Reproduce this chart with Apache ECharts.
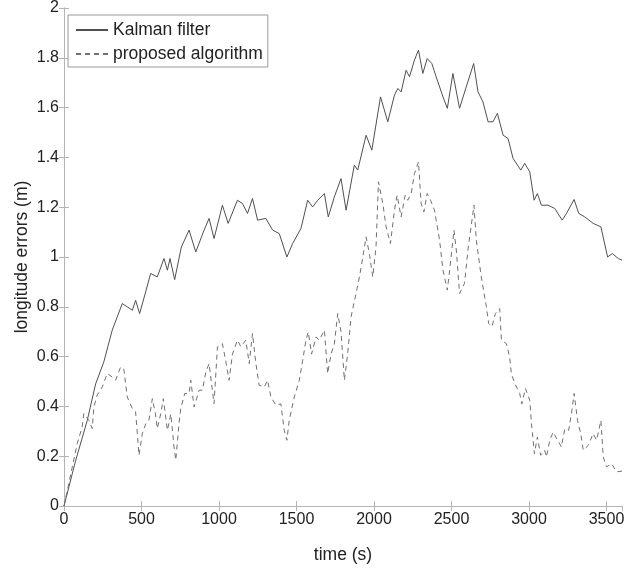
<!DOCTYPE html>
<html>
<head>
<meta charset="utf-8">
<title>longitude errors</title>
<script src="https://cdn.jsdelivr.net/npm/echarts@6/dist/echarts.min.js"></script>
<style>
    html, body { margin: 0; padding: 0; background: #fff; }
    #graph_container { width: 639px; height: 570px; }
</style>
</head>
<body>
<div id="graph_container"></div>
<script>
;
(function(window, echarts) {

    // Kalman filter (solid line)
    var kalmanTime = [0, 74, 150, 204, 257, 311, 376, 408, 441, 462, 488, 527, 559, 602, 645, 667, 684, 714, 757, 807,
        850, 904, 936, 968, 1022, 1059, 1119, 1151, 1184, 1216, 1249, 1302, 1346, 1389, 1438, 1475, 1529, 1572, 1604, 1637,
        1680, 1705, 1744, 1787, 1820, 1873, 1895, 1949, 1986, 2042, 2089, 2132, 2154, 2175, 2207, 2229, 2261, 2287, 2315, 2343,
        2373, 2401, 2445, 2473, 2509, 2552, 2595, 2643, 2671, 2703, 2736, 2768, 2796, 2833, 2865, 2897, 2947, 2972, 3005, 3033,
        3054, 3080, 3123, 3166, 3214, 3242, 3291, 3321, 3360, 3414, 3464, 3507, 3537, 3576, 3600
    ];
    var kalmanError = [0, 0.18, 0.344, 0.49, 0.579, 0.706, 0.813, 0.80, 0.786, 0.826, 0.773, 0.86, 0.934, 0.92, 0.994, 0.947, 0.994, 0.909, 1.04, 1.108,
        1.02, 1.108, 1.155, 1.074, 1.208, 1.135, 1.228, 1.215, 1.175, 1.235, 1.148, 1.155, 1.108, 1.094, 1.0, 1.054, 1.115, 1.228, 1.201, 1.228,
        1.255, 1.161, 1.241, 1.315, 1.188, 1.369, 1.349, 1.489, 1.429, 1.643, 1.543, 1.65, 1.677, 1.663, 1.75, 1.724, 1.791, 1.831, 1.737, 1.797,
        1.777, 1.724, 1.643, 1.597, 1.737, 1.597, 1.683, 1.777, 1.663, 1.623, 1.543, 1.543, 1.577, 1.489, 1.476, 1.396, 1.349, 1.376, 1.342, 1.228,
        1.255, 1.208, 1.208, 1.195, 1.148, 1.175, 1.231, 1.175, 1.161, 1.135, 1.121, 1.0, 1.014, 0.994, 0.987
    ];

    // proposed algorithm (dashed line)
    var proposedTime = [0, 85, 117, 128, 160, 182, 193, 214, 247, 279, 311, 333, 365, 386, 408, 441, 462, 484, 505, 527,
        548, 570, 590, 602, 624, 641, 667, 689, 710, 721, 742, 753, 779, 807, 818, 839, 872, 893, 915, 936,
        968, 990, 1022, 1044, 1065, 1087, 1119, 1141, 1173, 1195, 1216, 1238, 1259, 1292, 1313, 1335, 1367, 1399, 1421, 1438,
        1453, 1486, 1518, 1540, 1561, 1576, 1597, 1626, 1647, 1680, 1701, 1723, 1744, 1766, 1787, 1809, 1830, 1852, 1884, 1906,
        1928, 1949, 1971, 1992, 2013, 2029, 2057, 2078, 2106, 2132, 2149, 2175, 2201, 2218, 2240, 2261, 2287, 2304, 2322, 2343,
        2365, 2390, 2412, 2423, 2445, 2473, 2488, 2516, 2531, 2552, 2584, 2606, 2645, 2660, 2692, 2725, 2740, 2761, 2783, 2811,
        2822, 2854, 2875, 2886, 2908, 2940, 2954, 2977, 3005, 3016, 3035, 3054, 3075, 3101, 3112, 3134, 3156, 3184, 3209, 3231,
        3256, 3274, 3291, 3313, 3334, 3350, 3383, 3414, 3436, 3464, 3479, 3500, 3533, 3565, 3600
    ];
    var proposedError = [0, 0.25, 0.317, 0.371, 0.344, 0.311, 0.398, 0.445, 0.478, 0.532, 0.518, 0.505, 0.558, 0.55, 0.438, 0.391, 0.378, 0.204, 0.29, 0.33,
        0.344, 0.431, 0.37, 0.311, 0.37, 0.431, 0.304, 0.37, 0.237, 0.184, 0.331, 0.39, 0.452, 0.452, 0.505, 0.398, 0.465, 0.465, 0.538, 0.572,
        0.411, 0.639, 0.652, 0.58, 0.505, 0.61, 0.666, 0.64, 0.666, 0.572, 0.693, 0.572, 0.485, 0.478, 0.505, 0.438, 0.405, 0.41, 0.304, 0.264,
        0.344, 0.438, 0.505, 0.585, 0.666, 0.699, 0.61, 0.679, 0.666, 0.706, 0.532, 0.61, 0.65, 0.773, 0.70, 0.505, 0.61, 0.76, 0.853, 0.92,
        1.0, 1.081, 1.01, 0.92, 1.04, 1.302, 1.215, 1.121, 1.054, 1.188, 1.248, 1.161, 1.248, 1.228, 1.255, 1.335, 1.382, 1.215, 1.181, 1.255,
        1.228, 1.188, 1.108, 1.068, 0.947, 0.867, 0.947, 1.108, 1.028, 0.853, 0.894, 1.028, 1.208, 1.068, 0.92, 0.80, 0.733, 0.72, 0.773, 0.793,
        0.666, 0.652, 0.599, 0.532, 0.492, 0.452, 0.41, 0.472, 0.425, 0.331, 0.21, 0.277, 0.204, 0.224, 0.197, 0.264, 0.297, 0.264, 0.237, 0.31,
        0.304, 0.371, 0.452, 0.344, 0.29, 0.224, 0.244, 0.291, 0.264, 0.344, 0.197, 0.157, 0.17, 0.137, 0.14
    ];

    var seriesNames = ["Kalman filter", "proposed algorithm"];

    function pairs(xs, ys) {
        var out = [];
        for (var i = 0; i < xs.length; i++) {
            out.push([xs[i], ys[i]]);
        }
        return out;
    }

    var font = "'Liberation Sans', Arial, Helvetica, sans-serif";
    var boxColor = "#b4b4b4";
    var textColor = "#222";

    // plain numbers, no thousands separator
    function plain(v) {
        return String(Math.round(v * 100) / 100);
    }

    // matlab style box: ticks inside on all four sides
    function xAxisOf(pos, labels) {
        return {
            type: "value",
            position: pos,
            min: 0,
            max: 3600,
            interval: 500,
            name: labels ? "time (s)" : "",
            nameLocation: "middle",
            nameGap: 40,
            nameMoveOverlap: false,
            nameTextStyle: { fontSize: 17.5, color: textColor, fontFamily: font },
            axisLine: { show: true, lineStyle: { color: boxColor, width: 1 } },
            axisTick: { show: true, inside: true, length: 5, lineStyle: { color: boxColor } },
            axisLabel: { show: labels, margin: 6, fontSize: 16, color: textColor, fontFamily: font, formatter: plain },
            splitLine: { show: false }
        };
    }

    function yAxisOf(pos, labels) {
        return {
            type: "value",
            position: pos,
            min: 0,
            max: 2,
            interval: 0.2,
            name: labels ? "longitude errors (m)" : "",
            nameLocation: "middle",
            nameGap: 33,
            nameMoveOverlap: false,
            nameTextStyle: { fontSize: 17.5, color: textColor, fontFamily: font },
            axisLine: { show: true, lineStyle: { color: boxColor, width: 1 } },
            axisTick: { show: true, inside: true, length: 5, lineStyle: { color: boxColor } },
            axisLabel: { show: labels, margin: 5, fontSize: 16, color: textColor, fontFamily: font, formatter: plain },
            splitLine: { show: false }
        };
    }

    var chart = echarts.init(document.getElementById("graph_container"), null, { renderer: "canvas" });
    var option = {
        backgroundColor: "#fff",
        animation: false,
        grid: {
            left: 64,
            right: 17,
            top: 8,
            bottom: 64,
            containLabel: false
        },
        legend: {
            data: seriesNames,
            orient: "vertical",
            left: 68,
            top: 15,
            itemWidth: 32,
            itemHeight: 10,
            itemGap: 6,
            padding: [6, 5, 4, 7],
            borderColor: "#9a9a9a",
            borderWidth: 1,
            backgroundColor: "#fff",
            itemStyle: { opacity: 0 },
            textStyle: { fontSize: 17.5, color: textColor, fontFamily: font }
        },
        xAxis: [xAxisOf("bottom", true), xAxisOf("top", false)],
        yAxis: [yAxisOf("left", true), yAxisOf("right", false)],
        series: [{
            name: seriesNames[0],
            type: "line",
            data: pairs(kalmanTime, kalmanError),
            showSymbol: false,
            symbol: "none",
            lineStyle: { color: "#505050", width: 1 },
            itemStyle: { color: "#505050" }
        }, {
            name: seriesNames[1],
            type: "line",
            data: pairs(proposedTime, proposedError),
            showSymbol: false,
            symbol: "none",
            lineStyle: { color: "#707070", width: 1, type: [5, 4] },
            itemStyle: { color: "#707070" }
        }]
    };

    chart.setOption(option);

})(window, echarts)
</script>
</body>
</html>
